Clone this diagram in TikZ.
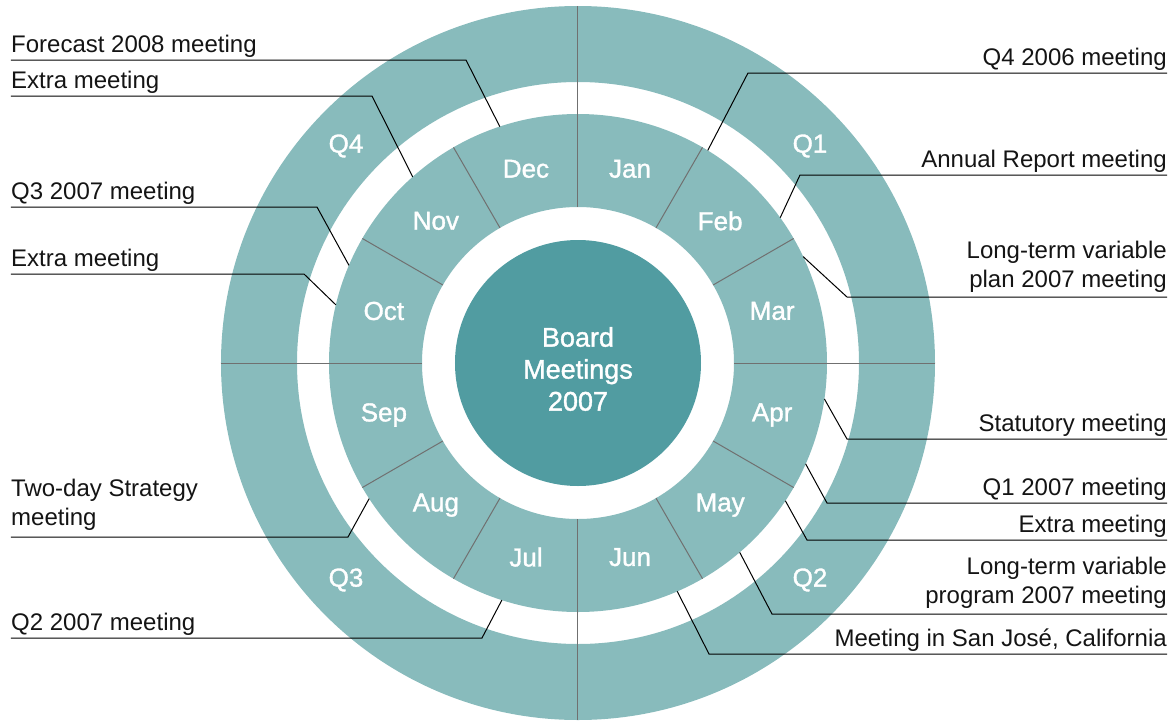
\documentclass[tikz,border=0pt]{standalone}
\usepackage{fontspec}
\setmainfont{Liberation Sans}
\newfontfamily\medfont[FakeBold=1.3]{Liberation Sans}
\definecolor{ringteal}{RGB}{136,187,188}
\definecolor{coreteal}{RGB}{81,156,161}
\definecolor{divgray}{RGB}{112,112,112}
\definecolor{inkgray}{RGB}{20,20,20}

\begin{document}
\begin{tikzpicture}[x=1pt,y=1pt,
  ringlabel/.style={text=white, font=\medfont\fontsize{26}{30}\selectfont, inner sep=0pt},
  titletext/.style={text=white, font=\medfont\fontsize{27}{32}\selectfont, align=center, inner sep=0pt},
  callout/.style={text=inkgray, font=\fontsize{24}{29}\selectfont, inner sep=0pt},
  leftcallout/.style={callout, anchor=south west, align=left},
  rightcallout/.style={callout, anchor=south east, align=right},
  leader/.style={black, line width=1pt},
  divider/.style={divgray, line width=1pt}]

\useasboundingbox (-578,-358) rectangle (592,363);

% quarter ring, month ring and core disc
\fill[ringteal, even odd rule] (0,0) circle[radius=357pt] (0,0) circle[radius=281pt];
\fill[ringteal, even odd rule] (0,0) circle[radius=249pt] (0,0) circle[radius=156pt];
\node[circle, fill=coreteal, minimum size=246pt, inner sep=0pt] (core) at (0,0) {};
\node[titletext] (title) at (0,-6) {Board\\Meetings\\2007};

% quarter and month dividers
\foreach \a in {0,90,180,270}
  \draw[divider] (\a:156) -- (\a:357);
\foreach \a in {30,60,120,150,210,240,300,330}
  \draw[divider] (\a:156) -- (\a:249);

% month names
\foreach \m [count=\i] in {Jan,Feb,Mar,Apr,May,Jun,Jul,Aug,Sep,Oct,Nov,Dec}
  \node[ringlabel] (m\i) at ({105-30*\i}:201) {\m};

% quarter names
\node[ringlabel] (q1) at (232,217) {Q1};
\node[ringlabel] (q2) at (232,-217) {Q2};
\node[ringlabel] (q3) at (-232,-217) {Q3};
\node[ringlabel] (q4) at (-232,217) {Q4};

% ---- callouts on the left ----
\coordinate (p1) at (108.3:249); \coordinate (e1) at (-112,303);
\node[leftcallout] (t1) at (-567,305.5) {Forecast 2008 meeting};
\draw[leader] (p1) -- (e1) -- (t1.south west |- e1);

\coordinate (p2) at (131.6:249); \coordinate (e2) at (-206,267);
\node[leftcallout] (t2) at (-567,269.5) {Extra meeting};
\draw[leader] (p2) -- (e2) -- (t2.south west |- e2);

\coordinate (p3) at (156.9:249); \coordinate (e3) at (-261,156);
\node[leftcallout] (t3) at (-567,158.5) {Q3 2007 meeting};
\draw[leader] (p3) -- (e3) -- (t3.south west |- e3);

\coordinate (p4) at (166.5:249); \coordinate (e4) at (-274,89);
\node[leftcallout] (t4) at (-567,91.5) {Extra meeting};
\draw[leader] (p4) -- (e4) -- (t4.south west |- e4);

\coordinate (p5) at (-147:249); \coordinate (e5) at (-230,-174);
\node[leftcallout] (t5) at (-567,-168) {Two-day Strategy\\meeting};
\draw[leader] (p5) -- (e5) -- (t5.south west |- e5);

\coordinate (p6) at (-107.8:249); \coordinate (e6) at (-96,-275);
\node[leftcallout] (t6) at (-567,-272.5) {Q2 2007 meeting};
\draw[leader] (p6) -- (e6) -- (t6.south west |- e6);

% ---- callouts on the right ----
\coordinate (p7) at (58.6:249); \coordinate (e7) at (170,290);
\node[rightcallout] (t7) at (589,292.5) {Q4 2006 meeting};
\draw[leader] (p7) -- (e7) -- (t7.south east |- e7);

\coordinate (p8) at (35.7:249); \coordinate (e8) at (222,188);
\node[rightcallout] (t8) at (589,190.5) {Annual Report meeting};
\draw[leader] (p8) -- (e8) -- (t8.south east |- e8);

\coordinate (p9) at (25.3:249); \coordinate (e9) at (269,66);
\node[rightcallout] (t9) at (589,70) {Long-term variable\\plan 2007 meeting};
\draw[leader] (p9) -- (e9) -- (t9.south east |- e9);

\coordinate (p10) at (-8.3:249); \coordinate (e10) at (269,-76);
\node[rightcallout] (t10) at (589,-73.5) {Statutory meeting};
\draw[leader] (p10) -- (e10) -- (t10.south east |- e10);

\coordinate (p11) at (-23.9:249); \coordinate (e11) at (249,-140);
\node[rightcallout] (t11) at (589,-137.5) {Q1 2007 meeting};
\draw[leader] (p11) -- (e11) -- (t11.south east |- e11);

\coordinate (p12) at (-33.6:249); \coordinate (e12) at (229,-177);
\node[rightcallout] (t12) at (589,-174.5) {Extra meeting};
\draw[leader] (p12) -- (e12) -- (t12.south east |- e12);

\coordinate (p13) at (-49.5:249); \coordinate (e13) at (194,-251);
\node[rightcallout] (t13) at (589,-246) {Long-term variable\\program 2007 meeting};
\draw[leader] (p13) -- (e13) -- (t13.south east |- e13);

\coordinate (p14) at (-66.5:249); \coordinate (e14) at (131,-291);
\node[rightcallout] (t14) at (589,-288.5) {Meeting in San José, California};
\draw[leader] (p14) -- (e14) -- (t14.south east |- e14);

\end{tikzpicture}
\end{document}
